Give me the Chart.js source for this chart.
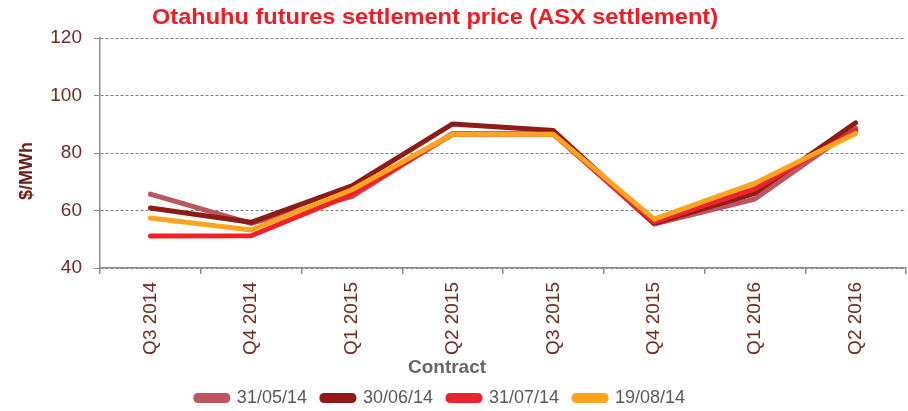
<!DOCTYPE html>
<html><head><meta charset="utf-8">
<script src="https://cdn.jsdelivr.net/npm/chart.js@4.4.1/dist/chart.umd.min.js"></script>
<style>html,body{margin:0;padding:0;background:#fff;overflow:hidden}#wrap{width:908px;height:411px;position:relative}</style>
</head><body><div id="wrap"><canvas id="c" width="908" height="411"></canvas></div>
<script>
const categories = ['Q3 2014','Q4 2014','Q1 2015','Q2 2015','Q3 2015','Q4 2015','Q1 2016','Q2 2016'];
const seriesNames = ['31/05/14','30/06/14','31/07/14','19/08/14'];
const s310514 = [65.7, 55.5, 64.8, 86.8, 86.7, 55.3, 64.0, 88.6];
const s300614 = [60.9, 55.9, 68.6, 90.1, 87.8, 55.5, 66.0, 90.5];
const s310714 = [51.1, 51.2, 65.6, 86.5, 86.5, 56.0, 67.5, 87.8];
const s190814 = [57.4, 53.2, 67.2, 86.5, 86.5, 57.0, 69.5, 86.8];
const yTicks = [40, 60, 80, 100, 120];
const titleText = 'Otahuhu futures settlement price (ASX settlement)';
const yTitleText = '$/MWh';
const xTitleText = 'Contract';

const FONT = "'Liberation Sans', Arial, sans-serif";
const colors = ['#BC5560', '#8E1B16', '#EE2229', '#FFA420'];
const seriesValues = [s310514, s300614, s310714, s190814];
const drawOrder = [4, 3, 2, 1];

const textPlugin = {
  id: 'texts',
  afterLayout(chart) {
    if (chart.legend) chart.legend.right = chart.legend.right - 25;
  },
  afterDraw(chart) {
    const ctx = chart.ctx;
    ctx.save();
    ctx.font = 'bold 22px ' + FONT;
    ctx.fillStyle = '#EE1C25';
    ctx.textAlign = 'center';
    ctx.textBaseline = 'middle';
    const w = ctx.measureText(titleText).width;
    ctx.save();
    ctx.translate(435, 18);
    ctx.scale(566 / w, 1);
    ctx.fillText(titleText, 0, 0);
    ctx.restore();
    ctx.save();
    ctx.font = 'bold 18px ' + FONT;
    ctx.fillStyle = '#6A2018';
    ctx.translate(27, 171);
    ctx.rotate(-Math.PI / 2);
    ctx.fillText(yTitleText, 0, 0);
    ctx.restore();
    ctx.font = 'bold 19px ' + FONT;
    ctx.fillStyle = '#666666';
    ctx.fillText(xTitleText, 447, 368);
    ctx.restore();
  }
};

new Chart(document.getElementById('c'), {
  type: 'line',
  data: {
    labels: categories,
    datasets: seriesNames.map((n, i) => ({
      label: n,
      data: seriesValues[i],
      borderColor: colors[i],
      backgroundColor: colors[i],
      borderWidth: 5,
      pointRadius: 0,
      tension: 0,
      fill: false,
      borderCapStyle: 'round',
      borderJoinStyle: 'round',
      order: drawOrder[i]
    }))
  },
  options: {
    responsive: false,
    animation: false,
    devicePixelRatio: 1,
    layout: { padding: { top: 38, right: 2, left: 0, bottom: 0 } },
    plugins: {
      title: { display: false },
      tooltip: { enabled: false },
      legend: {
        position: 'bottom',
        maxHeight: 37,
        labels: {
          boxWidth: 32, boxHeight: 5, padding: 15,
          color: '#595959',
          font: { family: FONT, size: 18 },
          useBorderRadius: true, borderRadius: 2,
          sort: (a, b) => a.datasetIndex - b.datasetIndex
        }
      }
    },
    scales: {
      x: {
        offset: true,
        grid: { offset: true, drawOnChartArea: false, drawTicks: true, tickLength: 6, tickColor: '#8c8c8c', lineWidth: 1.5 },
        border: { color: '#8c8c8c', width: 1.5 },
        ticks: { minRotation: 90, maxRotation: 90, padding: 8, color: '#6B2D24', font: { family: FONT, size: 19 } },
        afterFit(s) { s.height = 106; }
      },
      y: {
        min: 40, max: 120,
        afterBuildTicks(s) { s.ticks = yTicks.map(v => ({ value: v })); },
        grid: { color: '#7a7a7a', lineWidth: 1, tickColor: '#8c8c8c', tickLength: 6, tickBorderDash: [] },
        border: { color: '#8c8c8c', width: 1.5, dash: [3, 2] },
        ticks: { padding: 12, color: '#6B2D24', font: { family: FONT, size: 19 } },
        afterFit(s) { s.width = 100; }
      }
    }
  },
  plugins: [textPlugin]
});
</script></body></html>
